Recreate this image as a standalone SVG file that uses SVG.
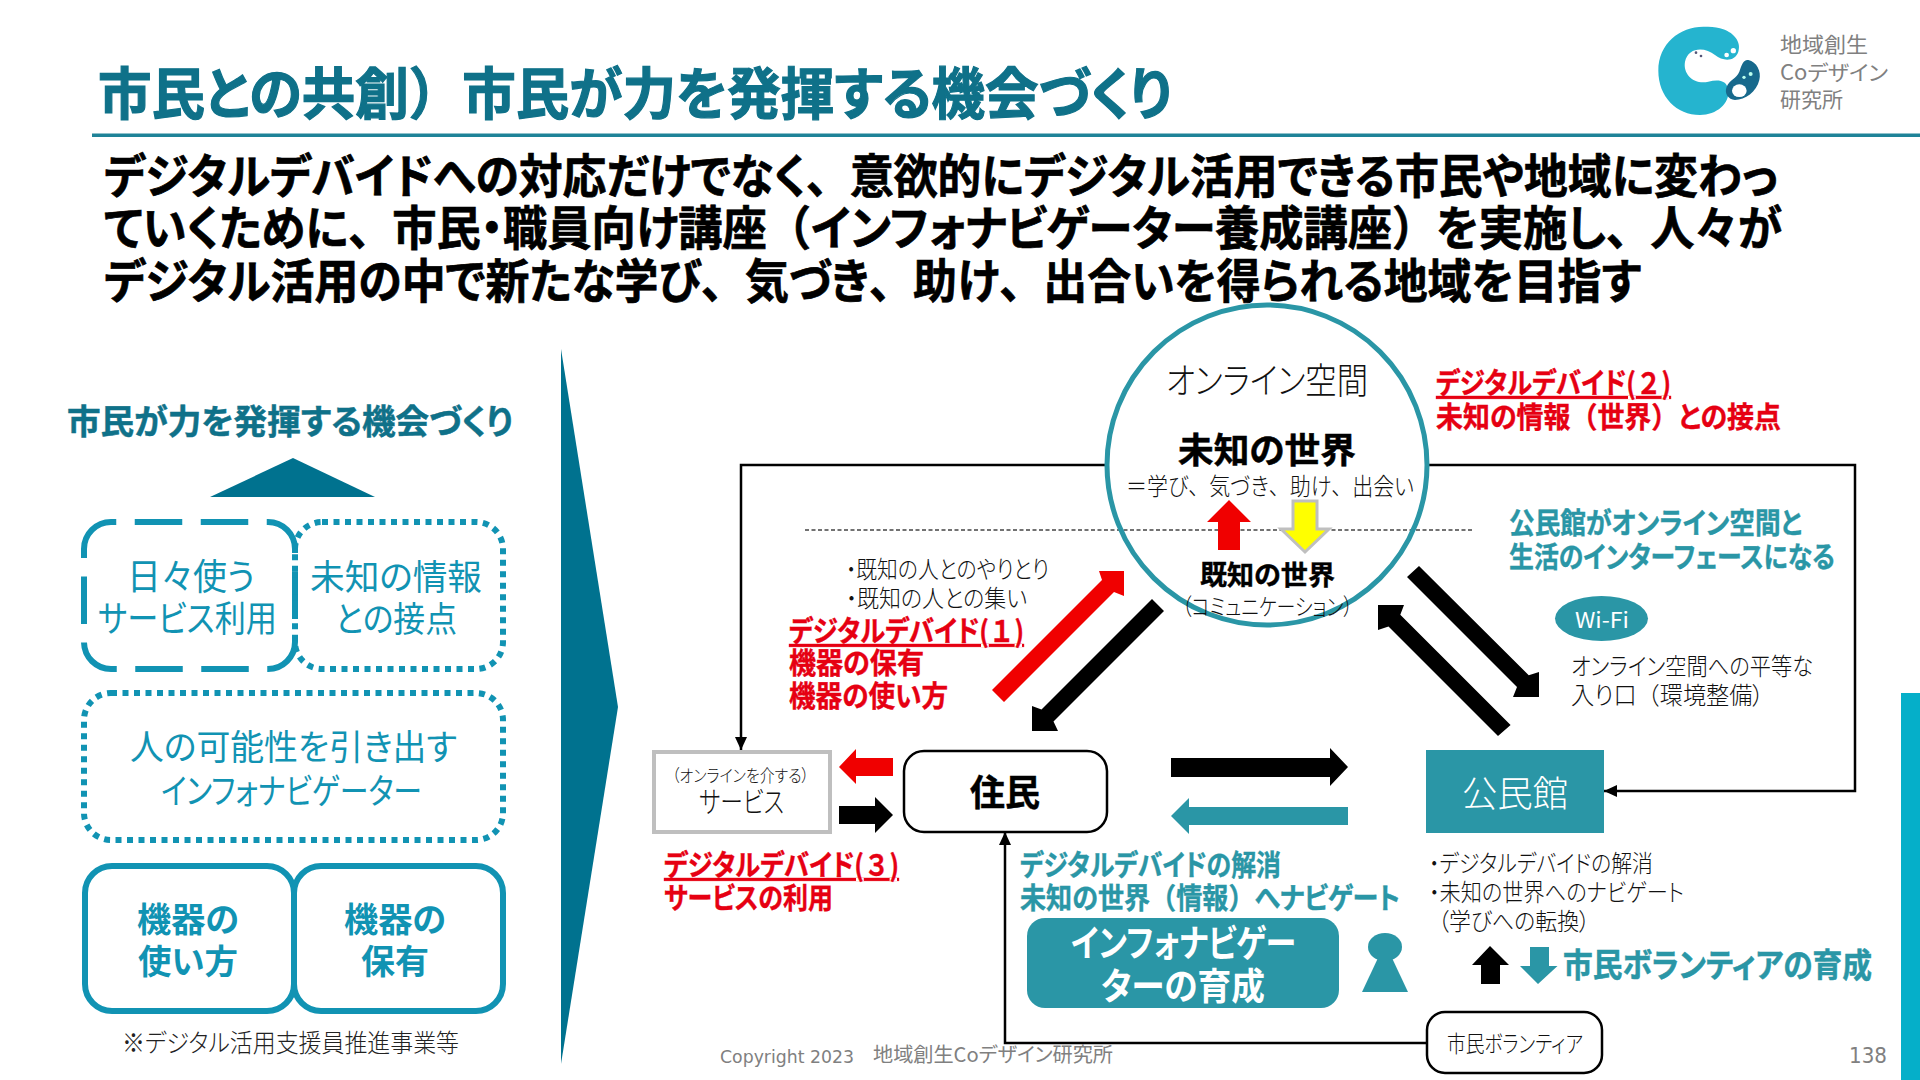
<svg xmlns="http://www.w3.org/2000/svg" width="1920" height="1080" viewBox="0 0 1920 1080">
<style>
text{font-family:"Noto Sans CJK JP","Noto Sans",sans-serif;font-feature-settings:"palt";}
.b{font-weight:700}
.m{text-anchor:middle}
.teal{fill:#2a96a6}
.deep{fill:#0f7189}
.blue{fill:#1193b3}
.red{fill:#e60012;font-weight:700;font-size:29px;stroke:#e60012;stroke-width:.4px}
.tb{fill:#2a96a6;font-weight:700;font-size:29px;stroke:#2a96a6;stroke-width:.4px}
.k{fill:#111;font-size:24px;font-weight:300}
.w{fill:#fff}
.g{fill:#808080}
.box{fill:none;stroke:#1193b3}
.line{fill:none;stroke:#000;stroke-width:2.5}
.fw{font-feature-settings:normal}
</style>
<defs>
<marker id="ah" markerUnits="userSpaceOnUse" markerWidth="14" markerHeight="12" refX="13" refY="6" orient="auto"><path d="M0 0L13 6L0 12z" fill="#000"/></marker>
</defs>
<rect width="1920" height="1080" fill="#fff"/>

<g id="header">
<text x="98" y="114" class="b deep" font-size="56" stroke="#0f7189" stroke-width="1.200" textLength="1074" lengthAdjust="spacingAndGlyphs">市民との共創<tspan class="fw">）</tspan>市民が力を発揮する機会づくり</text>
<rect x="92" y="133.500" width="1828" height="3.500" fill="#1f8398"/>
</g>
<g id="logo">
<g transform="translate(1620 0) scale(.3333)">
<path d="M300 85C340 95 365 125 355 155C345 185 310 185 285 165C255 140 205 140 195 185C188 225 225 255 265 245C295 238 320 240 325 270C330 310 290 345 240 345C170 345 115 290 115 212C115 130 180 80 250 80C270 80 285 80 300 85Z" fill="#25b4cf"/>
<circle cx="320" cy="165" r="7" fill="#fff"/><circle cx="340" cy="152" r="8" fill="#fff"/>
<circle cx="228" cy="158" r="4" fill="#557"/><circle cx="243" cy="168" r="4" fill="#557"/>
<path d="M385 180C410 185 425 215 418 240C410 275 375 300 345 300C325 298 312 280 320 260C328 240 350 235 358 215C365 195 370 178 385 180Z" fill="#17698c"/>
<ellipse cx="358" cy="272" rx="22" ry="19" fill="#fff"/>
<circle cx="372" cy="232" r="5" fill="#bfe"/><circle cx="392" cy="222" r="6" fill="#bfe"/>
</g>
<text x="1780" y="52" class="g" font-size="21" textLength="88" lengthAdjust="spacingAndGlyphs">地域創生</text>
<text x="1780" y="80" class="g" font-size="21" textLength="108" lengthAdjust="spacingAndGlyphs">Coデザイン</text>
<text x="1780" y="107" class="g" font-size="21" textLength="63" lengthAdjust="spacingAndGlyphs">研究所</text>
</g>
<g id="lead" class="b" font-size="47" fill="#000" stroke="#000" stroke-width=".7">
<text x="104" y="193" textLength="1674" lengthAdjust="spacingAndGlyphs">デジタルデバイドへの対応だけでなく<tspan class="fw">、</tspan>意欲的にデジタル活用できる市民や地域に変わっ</text>
<text x="104" y="245" textLength="1678" lengthAdjust="spacingAndGlyphs">ていくために<tspan class="fw">、</tspan>市民・職員向け講座<tspan class="fw">（</tspan>インフォナビゲーター養成講座<tspan class="fw">）</tspan>を実施し<tspan class="fw">、</tspan>人々が</text>
<text x="104" y="298" textLength="1537" lengthAdjust="spacingAndGlyphs">デジタル活用の中で新たな学び<tspan class="fw">、</tspan>気づき<tspan class="fw">、</tspan>助け<tspan class="fw">、</tspan>出合いを得られる地域を目指す</text>
</g>

<g id="left-heading">
<text x="67" y="434" class="b deep" font-size="34" stroke="#0f7189" stroke-width=".5" textLength="446" lengthAdjust="spacingAndGlyphs">市民が力を発揮する機会づくり</text>
<path d="M210 497L293 458L375 497z" fill="#00728f"/>
</g>
<g id="box-service-use">
<path d="M84 549A27 27 0 0 1 111 522H268A27 27 0 0 1 295 549V642A27 27 0 0 1 268 669H111A27 27 0 0 1 84 642Z" class="box" stroke-width="6" stroke-dasharray="47.500 18.500"/>
<text x="127" y="590" class="blue" font-size="36" textLength="128" lengthAdjust="spacingAndGlyphs">日々使う</text>
<text x="98" y="632" class="blue" font-size="36" textLength="179" lengthAdjust="spacingAndGlyphs">サービス利用</text>
</g>
<g id="box-unknown">
<rect x="295" y="522" width="208" height="147" rx="27" class="box" stroke-width="6" stroke-dasharray="6 5.500"/>
<text x="310" y="590" class="blue" font-size="35" textLength="172" lengthAdjust="spacingAndGlyphs">未知の情報</text>
<text x="335" y="632" class="blue" font-size="35" textLength="122" lengthAdjust="spacingAndGlyphs">との接点</text>
</g>
<g id="box-navigator">
<rect x="84" y="693" width="419" height="147" rx="27" class="box" stroke-width="6" stroke-dasharray="6 5.500"/>
<text x="130" y="760" class="blue" font-size="35" textLength="327" lengthAdjust="spacingAndGlyphs">人の可能性を引き出す</text>
<text x="161" y="804" class="blue" font-size="35" textLength="261" lengthAdjust="spacingAndGlyphs">インフォナビゲーター</text>
</g>
<g id="box-howto">
<rect x="85" y="866" width="209" height="145" rx="27" class="box" stroke-width="6"/>
<text x="137" y="932" class="b blue" font-size="34" textLength="102" lengthAdjust="spacingAndGlyphs">機器の</text>
<text x="138" y="974" class="b blue" font-size="34" textLength="100" lengthAdjust="spacingAndGlyphs">使い方</text>
</g>
<g id="box-own">
<rect x="294" y="866" width="209" height="145" rx="27" class="box" stroke-width="6"/>
<text x="344" y="932" class="b blue" font-size="34" textLength="102" lengthAdjust="spacingAndGlyphs">機器の</text>
<text x="361" y="974" class="b blue" font-size="34" textLength="68" lengthAdjust="spacingAndGlyphs">保有</text>
</g>
<text x="122" y="1052" fill="#222" font-size="25" font-weight="300" textLength="337" lengthAdjust="spacingAndGlyphs">※デジタル活用支援員推進事業等</text>
<path id="chevron" d="M561 349L618 707L561 1064z" fill="#00728f"/>

<g id="connectors">
<path d="M1107 465H741V750" class="line" marker-end="url(#ah)"/>
<path d="M1427 465H1855V791H1604" class="line" marker-end="url(#ah)"/>
<path d="M1427 1043H1005V832" class="line" marker-end="url(#ah)"/>
<path d="M805 530H1474" fill="none" stroke="#444" stroke-width="1.300" stroke-dasharray="4 2.500"/>
<path d="M992 690L1102 580L1099 571H1124V596L1114 592L1004 702z" fill="#f00000"/>
<path d="M1152 599L1041.500 709.500L1032 706V731H1058L1053.500 721.500L1164 611z" fill="#000"/>
<path d="M1419 566L1528.750 675.250L1539 672V697H1513L1517 687L1407 577z" fill="#000"/>
<path d="M1510.600 725L1400.300 614.700L1404 605H1378V630L1388.500 626.500L1498 736z" fill="#000"/>
<path d="M893 758H856V749L839 767L856 784V776H893z" fill="#f00000"/>
<path d="M839 806H875V797L893 815L875 833V824H839z" fill="#000"/>
<path d="M1171 758H1330V748L1348 767L1330 786V777H1171z" fill="#000"/>
<path d="M1348 807H1189V798L1171 816L1189 834V825H1348z" fill="#2a96a6"/>
<path d="M1490 946L1509 965H1500V984H1481V965H1472z" fill="#000"/>
<path d="M1530 947H1549V966H1557.500L1538 984L1520 966H1530z" fill="#2a96a6"/>
</g>

<g id="online-space">
<circle cx="1267" cy="465" r="160" fill="none" stroke="#2a96a6" stroke-width="5"/>
<text x="1166" y="394" fill="#111" font-size="36" font-weight="300" textLength="202" lengthAdjust="spacingAndGlyphs">オンライン空間</text>
<text x="1178" y="463" class="b" fill="#000" stroke="#000" stroke-width=".5" font-size="35" textLength="178" lengthAdjust="spacingAndGlyphs">未知の世界</text>
<text x="1126" y="495" fill="#111" font-size="24" font-weight="300" textLength="288" lengthAdjust="spacingAndGlyphs"><tspan class="fw">＝</tspan>学び<tspan class="fw">、</tspan>気づき<tspan class="fw">、</tspan>助け<tspan class="fw">、</tspan>出会い</text>
<path d="M1229 500L1251 522H1240V550H1218V522H1207z" fill="#f00000"/>
<path d="M1293 501H1317V529H1329L1305 552L1281 529H1293z" fill="#ffff00" stroke="#bfbfbf" stroke-width="3"/>
<text x="1200" y="585" class="b" fill="#000" stroke="#000" stroke-width=".4" font-size="27" textLength="135" lengthAdjust="spacingAndGlyphs">既知の世界</text>
<text x="1182" y="615" fill="#111" font-size="23" font-weight="300" textLength="171" lengthAdjust="spacingAndGlyphs">（コミュニケーション）</text>
</g>

<g id="label-divide-2">
<text x="1436" y="394" class="red" text-decoration="underline" textLength="235" lengthAdjust="spacingAndGlyphs">デジタルデバイド(<tspan class="fw">２</tspan>)</text>
<text x="1436" y="428" class="red" textLength="345" lengthAdjust="spacingAndGlyphs">未知の情報<tspan class="fw">（</tspan>世界<tspan class="fw">）</tspan>との接点</text>
</g>
<g id="label-interface">
<text x="1509" y="534" class="tb" textLength="293" lengthAdjust="spacingAndGlyphs">公民館がオンライン空間と</text>
<text x="1509" y="568" class="tb" textLength="326" lengthAdjust="spacingAndGlyphs">生活のインターフェースになる</text>
</g>
<g id="wifi">
<ellipse cx="1601.500" cy="618.500" rx="46.500" ry="22.500" fill="#2a96a6"/>
<text x="1575" y="628" class="w" font-size="22" textLength="54" lengthAdjust="spacingAndGlyphs">Wi-Fi</text>
<text x="1571" y="675" class="k" textLength="242" lengthAdjust="spacingAndGlyphs">オンライン空間への平等な</text>
<text x="1571" y="704" class="k" textLength="193" lengthAdjust="spacingAndGlyphs">入り口<tspan class="fw">（</tspan>環境整備）</text>
</g>
<g id="label-divide-1">
<text x="846" y="578" class="k" textLength="203" lengthAdjust="spacingAndGlyphs">・既知の人とのやりとり</text>
<text x="846" y="607" class="k" textLength="181" lengthAdjust="spacingAndGlyphs">・既知の人との集い</text>
<text x="789" y="642" class="red" text-decoration="underline" textLength="235" lengthAdjust="spacingAndGlyphs">デジタルデバイド(<tspan class="fw">１</tspan>)</text>
<text x="789" y="674" class="red" textLength="135" lengthAdjust="spacingAndGlyphs">機器の保有</text>
<text x="789" y="707" class="red" textLength="159" lengthAdjust="spacingAndGlyphs">機器の使い方</text>
</g>
<g id="service">
<rect x="654" y="752" width="176" height="80" fill="#fff" stroke="#bfbfbf" stroke-width="4"/>
<text x="672" y="782" class="k" style="font-size:17px" textLength="137" lengthAdjust="spacingAndGlyphs">（オンラインを介する）</text>
<text x="699" y="813" class="k" style="font-size:29px" textLength="85" lengthAdjust="spacingAndGlyphs">サービス</text>
</g>
<g id="resident">
<rect x="904" y="751" width="203" height="81" rx="20" fill="#fff" stroke="#000" stroke-width="2.500"/>
<text x="970" y="806" class="b" fill="#000" stroke="#000" stroke-width=".5" font-size="36" textLength="70" lengthAdjust="spacingAndGlyphs">住民</text>
</g>
<g id="label-divide-3">
<text x="664" y="876" class="red" text-decoration="underline" textLength="235" lengthAdjust="spacingAndGlyphs">デジタルデバイド(<tspan class="fw">３</tspan>)</text>
<text x="664" y="909" class="red" textLength="169" lengthAdjust="spacingAndGlyphs">サービスの利用</text>
</g>
<g id="label-navigate">
<text x="1020" y="876" class="tb" textLength="261" lengthAdjust="spacingAndGlyphs">デジタルデバイドの解消</text>
<text x="1020" y="909" class="tb" textLength="380" lengthAdjust="spacingAndGlyphs">未知の世界<tspan class="fw">（</tspan>情報<tspan class="fw">）</tspan>へナビゲート</text>
</g>
<g id="navigator-training">
<rect x="1027" y="918" width="312" height="90" rx="18" fill="#2a96a6"/>
<text x="1071" y="957" class="b w" font-size="37" textLength="225" lengthAdjust="spacingAndGlyphs">インフォナビゲー</text>
<text x="1101" y="1000" class="b w" font-size="37" textLength="164" lengthAdjust="spacingAndGlyphs">ターの育成</text>
</g>
<g id="person" fill="#2a96a6">
<ellipse cx="1385" cy="947" rx="17" ry="14"/>
<path d="M1378 958H1392L1408 992H1362z"/>
</g>
<g id="community-center">
<rect x="1426" y="750" width="178" height="83" fill="#2a96a6"/>
<text x="1462" y="807" class="w" font-size="36" font-weight="300" textLength="106" lengthAdjust="spacingAndGlyphs">公民館</text>
</g>
<g id="label-center">
<text x="1429" y="872" class="k" textLength="224" lengthAdjust="spacingAndGlyphs">・デジタルデバイドの解消</text>
<text x="1429" y="901" class="k" textLength="255" lengthAdjust="spacingAndGlyphs">・未知の世界へのナビゲート</text>
<text x="1438" y="930" class="k" textLength="152" lengthAdjust="spacingAndGlyphs">（学びへの転換）</text>
</g>
<text x="1563" y="977" class="b teal" font-size="33" stroke="#2a96a6" stroke-width=".5" textLength="309" lengthAdjust="spacingAndGlyphs">市民ボランティアの育成</text>
<g id="volunteer">
<rect x="1427" y="1012" width="175" height="61" rx="18" fill="#fff" stroke="#000" stroke-width="2.500"/>
<text x="1447" y="1052" class="k" style="font-size:23px" textLength="136" lengthAdjust="spacingAndGlyphs">市民ボランティア</text>
</g>
<g id="footer">
<text x="720" y="1063" class="g" font-size="18" style="font-family:'DejaVu Sans',sans-serif" textLength="134" lengthAdjust="spacingAndGlyphs">Copyright 2023</text>
<text x="873" y="1062" class="g" font-size="20" textLength="240" lengthAdjust="spacingAndGlyphs">地域創生Coデザイン研究所</text>
<text x="1849" y="1063" class="g" font-size="22" style="font-family:'DejaVu Sans',sans-serif" textLength="38" lengthAdjust="spacingAndGlyphs">138</text>
<rect x="1901" y="693" width="19" height="387" fill="#05afc9"/>
</g>
</svg>
